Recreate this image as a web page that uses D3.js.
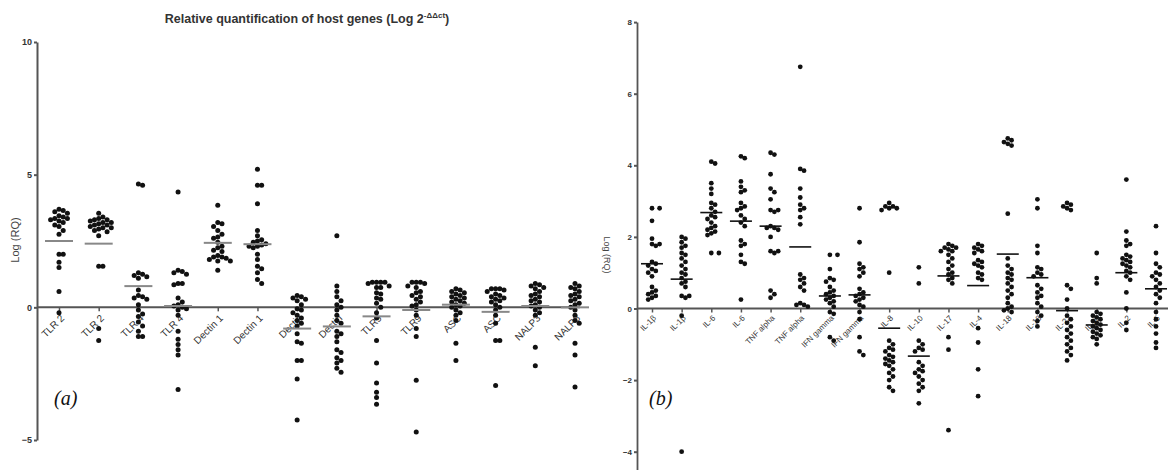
<!DOCTYPE html>
<html><head><meta charset="utf-8">
<script src="https://cdn.jsdelivr.net/npm/d3@7"></script>
<style>body{margin:0;background:#fff}svg{display:block}</style>
</head><body>
<svg id="c" width="1168" height="470"></svg>
<script>
// ---------- Panel (a) data ----------
const catsA = ["TLR 2","TLR 2","TLR 4","TLR 4","Dectin 1","Dectin 1","Dectin","Dectin","TLR9","TLR9","ASC","ASC","NALP3","NALP3"];
const ticksA = [10,5,0,-5];
const tlr2a = [3.7,3.65,3.6,3.55,3.45,3.4,3.35,3.35,3.3,3.25,3.2,3.1,3.05,2.9,2.75,2.0,2.0,1.7,1.5,0.6,-0.2];
const tlr2b = [3.55,3.4,3.35,3.3,3.3,3.25,3.2,3.2,3.15,3.1,3.1,3.05,3.0,3.0,2.95,2.9,2.85,2.7,1.55,1.55,-0.8,-1.25];
const tlr4a = [4.65,4.6,1.3,1.25,1.2,1.15,1.1,0.65,0.45,0.4,0.35,0.3,0.1,-0.1,-0.25,-0.35,-0.55,-0.7,-0.9,-1.1,-1.1];
const tlr4b = [4.35,1.4,1.35,1.3,1.25,0.9,0.9,0.85,0.35,0.2,0.1,0.05,0.0,-0.05,-0.1,-0.3,-0.9,-1.2,-1.4,-1.6,-1.8,-3.1];
const dectin1a = [3.85,3.2,3.15,3.05,2.9,2.75,2.65,2.6,2.45,2.3,2.25,2.15,2.1,1.95,1.9,1.9,1.85,1.8,1.75,1.75,1.4];
const dectin1b = [5.2,4.6,4.6,3.9,2.9,2.7,2.55,2.5,2.45,2.4,2.35,2.3,2.3,2.25,2.0,1.8,1.55,1.45,1.3,1.05,0.9];
const dectinA = [0.45,0.4,0.35,0.3,0.25,0.1,-0.05,-0.1,-0.2,-0.3,-0.4,-0.5,-0.6,-0.7,-1.0,-1.3,-1.35,-2.0,-2.0,-2.7,-4.25];
const dectinB = [2.7,0.8,0.6,0.4,0.25,0.1,0.0,-0.1,-0.3,-0.5,-0.6,-0.9,-1.0,-1.1,-1.3,-1.6,-1.7,-1.9,-2.0,-2.1,-2.3,-2.45];
const tlr9a = [0.95,0.95,0.95,0.95,0.9,0.8,0.75,0.75,0.55,0.5,0.35,0.3,0.15,0.0,-0.2,-0.4,-1.25,-2.1,-2.85,-3.2,-3.4,-3.65];
const tlr9b = [0.95,0.95,0.95,0.9,0.8,0.75,0.6,0.55,0.45,0.4,0.3,0.2,0.1,0.05,-0.1,-0.3,-0.8,-1.1,-2.75,-4.7];
const ascA = [0.7,0.65,0.6,0.55,0.5,0.45,0.4,0.35,0.3,0.25,0.2,0.15,0.1,0.05,0.0,-0.1,-0.2,-0.3,-0.5,-1.35,-2.0];
const ascB = [0.7,0.7,0.7,0.65,0.6,0.5,0.45,0.4,0.35,0.3,0.25,0.2,0.1,0.0,-0.1,-0.3,-0.6,-1.25,-1.25,-2.95];
const nalp3a = [0.9,0.85,0.8,0.75,0.7,0.6,0.5,0.45,0.4,0.3,0.25,0.2,0.1,0.05,0.0,-0.1,-0.2,-0.3,-1.5,-2.2];
const nalp3b = [0.9,0.8,0.75,0.7,0.6,0.5,0.45,0.4,0.3,0.25,0.15,0.1,0.0,-0.1,-0.3,-0.5,-0.6,-1.35,-1.8,-3.0];
const valsA = [tlr2a,tlr2b,tlr4a,tlr4b,dectin1a,dectin1b,dectinA,dectinB,tlr9a,tlr9b,ascA,ascB,nalp3a,nalp3b];
const meansA = [2.5,2.4,0.8,0.05,2.43,2.38,-0.8,-0.72,-0.34,-0.1,0.1,-0.17,0.05,0.0];

// ---------- Panel (b) data ----------
const catsB = ["IL-1β","IL-1β","IL-6","IL-6","TNF alpha","TNF alpha","IFN gamma","IFN gamma","IL-8","IL-10","IL-17","IL-4","IL-18","IL-18","IL-22","IL-23","IL-2","IL-5"];
const ticksB = [8,6,4,2,0,-2,-4];
const il1a = [2.8,2.8,2.45,1.95,1.8,1.8,1.75,1.3,1.25,1.2,1.1,1.05,1.0,0.9,0.6,0.5,0.45,0.4,0.35,0.3,0.25];
const il1b = [2.0,1.95,1.85,1.75,1.7,1.55,1.5,1.4,1.3,1.2,1.1,1.0,0.95,0.85,0.75,0.7,0.6,0.35,0.35,0.3,-0.2,-4.0];
const il6a = [4.1,4.05,3.5,3.35,3.2,2.95,2.9,2.8,2.7,2.6,2.55,2.5,2.4,2.3,2.25,2.2,2.15,2.1,2.05,1.55,1.55];
const il6b = [4.25,4.2,3.55,3.4,3.3,3.25,2.95,2.85,2.8,2.75,2.6,2.5,2.4,2.3,1.9,1.8,1.75,1.5,1.3,1.25,0.25];
const tnfA = [4.35,4.3,3.75,3.35,3.25,3.05,2.75,2.75,2.7,2.3,2.25,2.25,2.2,2.0,1.6,1.6,1.55,0.5,0.4,0.3];
const tnfB = [6.75,3.9,3.85,3.35,3.1,2.9,2.8,2.75,2.55,2.35,0.95,0.85,0.8,0.7,0.6,0.5,0.15,0.1,0.1,0.05];
const ifnA = [1.5,1.5,1.1,0.85,0.8,0.75,0.6,0.5,0.45,0.4,0.35,0.3,0.25,0.2,0.15,0.05,-0.1,-0.15,-0.8,-0.9];
const ifnB = [2.8,1.85,1.25,1.15,1.1,1.0,0.9,0.55,0.45,0.4,0.35,0.3,0.25,0.2,0.1,0.05,-0.1,-0.3,-0.8,-1.2,-1.3];
const il8 = [2.95,2.85,2.85,2.8,2.8,2.75,1.0,-0.9,-1.0,-1.1,-1.15,-1.2,-1.3,-1.35,-1.4,-1.45,-1.5,-1.55,-1.6,-1.7,-1.8,-1.9,-2.0,-2.2,-2.3];
const il10 = [1.15,0.7,-0.9,-1.0,-1.1,-1.15,-1.2,-1.5,-1.6,-1.7,-1.75,-1.8,-1.9,-2.0,-2.1,-2.2,-2.3,-2.65];
const il17 = [1.8,1.75,1.7,1.7,1.65,1.6,1.6,1.5,1.4,1.3,1.2,1.1,1.0,0.95,0.85,0.8,0.7,-0.8,-1.15,-3.4];
const il4 = [1.8,1.75,1.7,1.65,1.6,1.55,1.35,1.3,1.25,1.2,1.15,1.0,0.95,0.85,0.8,-0.55,-0.95,-1.7,-2.45];
const il18a = [4.75,4.7,4.65,4.6,4.55,2.65,1.4,1.2,1.1,1.0,0.95,0.85,0.8,0.7,0.6,0.5,0.4,0.3,0.15,0.05,0.0,-0.05,-0.1];
const il18b = [3.05,2.8,1.75,1.55,1.15,1.1,1.0,0.95,0.9,0.65,0.55,0.45,0.35,0.3,0.15,0.05,-0.1,-0.2,-0.35,-0.5];
const il22 = [2.95,2.9,2.85,2.8,2.75,0.65,0.55,0.25,0.0,-0.2,-0.3,-0.4,-0.5,-0.6,-0.7,-0.8,-0.9,-1.0,-1.1,-1.2,-1.3,-1.45];
const il23 = [1.55,0.85,0.7,-0.1,-0.15,-0.2,-0.25,-0.3,-0.35,-0.4,-0.45,-0.5,-0.55,-0.6,-0.65,-0.7,-0.75,-0.8,-0.85,-1.0];
const il2 = [3.6,2.15,1.9,1.8,1.75,1.5,1.45,1.4,1.35,1.3,1.25,1.2,1.15,1.05,1.0,0.9,0.8,0.45,0.0,-0.4,-0.6];
const il5 = [2.3,1.55,1.25,1.15,1.0,0.95,0.9,0.8,0.7,0.6,0.5,0.4,0.3,0.15,-0.1,-0.3,-0.5,-0.7,-0.95,-1.1];
const valsB = [il1a,il1b,il6a,il6b,tnfA,tnfB,ifnA,ifnB,il8,il10,il17,il4,il18a,il18b,il22,il23,il2,il5];
const meansB = [1.25,0.82,2.68,2.44,2.3,1.72,0.35,0.38,-0.55,-1.33,0.91,0.64,1.52,0.86,-0.06,-0.46,1.0,0.55];

const svg = d3.select("#c");
const FONT = "Liberation Sans, Arial, sans-serif";

// deterministic beeswarm dodge with a maximum half-width (allows overlap when crowded)
function swarm(values, y, step, md, maxK) {
  const pts = values.map(v => ({v, y: y(v)})).sort((a,b) => a.y - b.y);
  const placed = [];
  pts.forEach(p => {
    let best = 0, bestD = -1;
    for (let k = 0; k <= 2*maxK; k++) {
      const off = k === 0 ? 0 : (k % 2 === 1 ? 1 : -1) * Math.ceil(k/2) * step;
      let dmin = Infinity;
      placed.forEach(q => { const d = Math.hypot(q.x-off, q.y-p.y); if (d < dmin) dmin = d; });
      if (dmin >= md) { best = off; bestD = dmin; break; }
      if (dmin > bestD + 0.01) { bestD = dmin; best = off; }
    }
    p.x = best;
    placed.push(p);
  });
  return pts;
}

function panel(cfg) {
  const g = svg.append("g");
  const x = d3.scalePoint().domain(d3.range(cfg.cats.length)).range(cfg.xRange);
  const y = d3.scaleLinear().domain(cfg.yDomain).range(cfg.yRange);

  // y axis
  const ya = g.append("g").attr("transform", `translate(${cfg.axisX},0)`)
    .call(d3.axisLeft(y).tickValues(cfg.ticks).tickSize(cfg.tickLen).tickSizeOuter(0).tickFormat(d3.format("d")));
  ya.select(".domain").attr("stroke", cfg.axisColor).attr("stroke-width", cfg.axisW);
  ya.selectAll(".tick line").attr("stroke", cfg.axisColor).attr("stroke-width", 2);
  ya.selectAll(".tick text").attr("font-family", FONT).attr("font-size", cfg.tickFont).attr("font-weight", "bold")
    .attr("fill", "#333").attr("x", -cfg.tickLen - 2);

  // x axis baseline
  g.append("line").attr("x1", cfg.axisX).attr("x2", cfg.xEnd).attr("y1", y(0)).attr("y2", y(0))
    .attr("stroke", cfg.axisColor).attr("stroke-width", cfg.axisW);
  const xa = g.append("g").attr("transform", `translate(0,${y(0)})`)
    .call(d3.axisBottom(x).tickSize(4).tickSizeOuter(0).tickFormat(i => cfg.cats[i]));
  xa.select(".domain").remove();
  xa.selectAll(".tick line").attr("stroke", cfg.axisColor).attr("stroke-width", 1.5);
  xa.selectAll(".tick text")
    .attr("font-family", FONT).attr("font-size", cfg.catFont).attr("fill", "#333")
    .attr("text-anchor", "end").attr("x", 0).attr("y", 0).attr("dy", "0.35em")
    .attr("transform", `translate(${cfg.labDx},${cfg.labDy}) rotate(-45)`);

  // dots
  cfg.vals.forEach((vals, i) => {
    const pts = swarm(vals, y, cfg.step, cfg.md, cfg.maxK);
    g.append("g").selectAll("circle").data(pts).join("circle")
      .attr("cx", d => x(i) + d.x).attr("cy", d => d.y).attr("r", cfg.r).attr("fill", "#111");
  });
  // mean lines
  g.append("g").selectAll("line").data(cfg.means).join("line")
    .attr("x1", (d,i) => x(i) - cfg.meanW/2).attr("x2", (d,i) => x(i) + cfg.meanW/2)
    .attr("y1", d => y(d)).attr("y2", d => y(d))
    .attr("stroke", cfg.meanColor).attr("stroke-width", cfg.meanStroke);

  // y label
  g.append("text").attr("transform", `translate(${cfg.ylabX},${cfg.ylabY}) rotate(${cfg.ylabRot})`)
    .attr("text-anchor", "middle").attr("font-family", FONT).attr("font-size", cfg.ylabFont).attr("fill", "#444")
    .text("Log (RQ)");
  // panel letter
  g.append("text").attr("x", cfg.letterX).attr("y", 405).attr("font-family", "Liberation Serif, Times New Roman, serif")
    .attr("font-style", "italic").attr("font-size", 20).attr("fill", "#111").text(cfg.letter);
}

panel({cats: catsA, vals: valsA, means: meansA, ticks: ticksA,
  xRange: [59, 575], yDomain: [-5, 10], yRange: [440, 42], axisX: 37, xEnd: 580,
  axisColor: "#555", axisW: 2, tickLen: 3, tickFont: 9, catFont: 10, labDx: 3, labDy: 9,
  r: 2.5, step: 4.2, md: 4.2, maxK: 3, meanW: 28, meanColor: "#888", meanStroke: 2,
  ylabX: 19, ylabY: 240, ylabRot: -90, ylabFont: 11, letterX: 54, letter: "(a)"});

panel({cats: catsB, vals: valsB, means: meansB, ticks: ticksB,
  xRange: [652, 1156], yDomain: [-4.5, 8], yRange: [469.6, 22.1], axisX: 637, xEnd: 1168,
  axisColor: "#555", axisW: 1.8, tickLen: 3, tickFont: 8, catFont: 8, labDx: 2, labDy: 8,
  r: 2.4, step: 3.8, md: 4.0, maxK: 2, meanW: 22, meanColor: "#111", meanStroke: 1.6,
  ylabX: 604, ylabY: 255, ylabRot: 90, ylabFont: 9, letterX: 649, letter: "(b)"});

// title
const t = svg.append("text").attr("x", 307).attr("y", 23).attr("text-anchor", "middle")
  .attr("font-family", FONT).attr("font-weight", "bold").attr("font-size", 12.5).attr("fill", "#333");
t.append("tspan").text("Relative quantification of host genes (Log 2");
t.append("tspan").attr("dy", -5).attr("font-size", 8).text("-ΔΔct");
t.append("tspan").attr("dy", 5).text(")");
</script>
</body></html>
